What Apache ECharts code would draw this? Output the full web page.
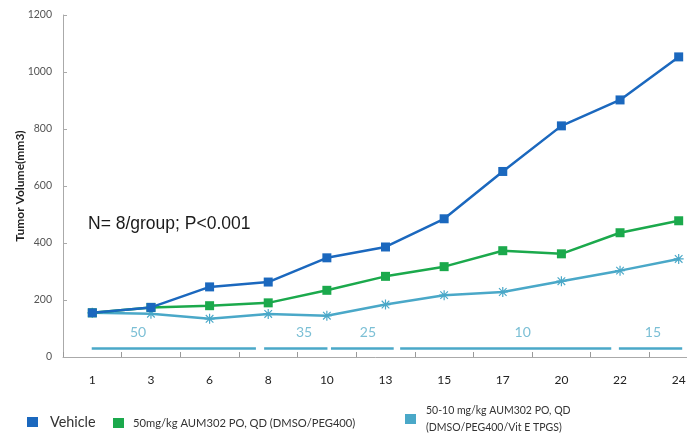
<!DOCTYPE html>
<html>
<head>
<meta charset="utf-8">
<script src="https://cdn.jsdelivr.net/npm/echarts@6/dist/echarts.min.js"></script>
<style>
  html, body { margin: 0; padding: 0; background: #fff; }
  #chart { width: 687px; height: 436px; }
</style>
</head>
<body>
<div id="chart"></div>
<script>
// Study days (x categories)
const days = ['1', '3', '6', '8', '10', '13', '15', '17', '20', '22', '24'];

// Mean tumor volume (mm3) per group
const vehicle = [155, 174, 246, 263, 348, 386, 485, 651, 811, 902, 1053];
const dose50 = [155, 174, 180, 190, 234, 283, 317, 373, 362, 436, 478];
const dose50to10 = [155, 152, 134, 151, 145, 184, 217, 228, 266, 303, 344];

// Y axis ticks
const yTicks = [0, 200, 400, 600, 800, 1000, 1200];

// Dosing schedule of the tapered group (mg/kg), in day-index units
const doseLevels = [50, 35, 25, 10, 15];
const doseStart = [0.49, 3.43, 4.57, 5.75, 9.48];
const doseEnd = [3.29, 4.51, 5.64, 9.35, 10.56];
const doseLabelAt = [1.28, 4.11, 5.20, 7.84, 10.06];

const seriesNames = [
  'Vehicle',
  '50mg/kg AUM302 PO, QD (DMSO/PEG400)',
  '50-10 mg/kg AUM302 PO, QD\n(DMSO/PEG400/Vit E TPGS)'
];

const BLUE = '#1b68be';
const GREEN = '#1ba94c';
const TEAL = '#4aa8c8';
const FONT = 'Lato, "Open Sans", sans-serif';

// asterisk marker built from four thin bars
const asterisk = 'path://M0 4.4h10v1.2h-10z M4.4 0h1.2v10h-1.2z M0.8 1.6L1.6 0.8L9.2 8.4L8.4 9.2Z M8.4 0.8L9.2 1.6L1.6 9.2L0.8 8.4Z';

const chart = echarts.init(document.getElementById('chart'), null, { renderer: 'canvas' });

const dosingSegments = doseLevels.map((d, i) => ({
  coords: [[doseStart[i], 32], [doseEnd[i], 32]]
}));
const dosingLabels = doseLevels.map((d, i) => [doseLabelAt[i], 86, d]);

function legendFor(idx, left, top, fontSize, pad, lineHeight) {
  return {
    left: left, top: top,
    data: [seriesNames[idx]],
    icon: 'rect', itemWidth: 11, itemHeight: 10,
    selectedMode: false,
    textStyle: { fontFamily: FONT, fontSize: fontSize, color: '#333', padding: [0, 0, 0, pad], lineHeight: lineHeight }
  };
}

chart.setOption({
  animation: false,
  backgroundColor: '#fff',
  grid: { left: 63, top: 15, width: 645, bottom: 79, containLabel: false, outerBoundsMode: 'none' },
  xAxis: [
    {
      type: 'category',
      data: days,
      boundaryGap: true,
      axisLine: { show: true, lineStyle: { color: '#aaa', width: 1 } },
      axisTick: { show: true, inside: true, length: 5, lineStyle: { color: '#999' } },
      axisLabel: { color: '#222', fontFamily: FONT, fontSize: 12, margin: 17 },
      splitLine: { show: false }
    },
    { type: 'value', min: 0, max: 11, show: false }
  ],
  yAxis: {
    type: 'value',
    min: yTicks[0], max: yTicks[yTicks.length - 1], interval: 200,
    name: 'Tumor Volume(mm3)',
    nameLocation: 'middle',
    nameRotate: 90,
    nameGap: 37,
    nameMoveOverlap: false,
    nameTextStyle: { fontFamily: FONT, fontWeight: 'bold', fontSize: 12, color: '#222' },
    axisLine: { show: true, lineStyle: { color: '#aaa', width: 1 } },
    axisTick: { show: true, inside: true, length: 4, lineStyle: { color: '#aaa' } },
    axisLabel: { color: '#555', fontFamily: FONT, fontSize: 10.5, margin: 11, formatter: v => String(v) },
    splitLine: { show: false }
  },
  legend: [
    legendFor(0, 22, 408, 14.4, 7, 18),
    legendFor(1, 108, 409, 11.2, 4, 18),
    legendFor(2, 400, 397, 10.5, 5, 17)
  ],
  graphic: [{
    type: 'text',
    left: 88, top: 215,
    style: { text: 'N= 8/group; P<0.001', fontFamily: '"Liberation Sans", Arial, sans-serif', fontSize: 17.5, fill: '#1a1a1a' }
  }],
  series: [
    {
      name: seriesNames[0], type: 'line', data: vehicle,
      symbol: 'rect', symbolSize: 9, showAllSymbol: true,
      itemStyle: { color: BLUE }, lineStyle: { color: BLUE, width: 2.5 }, z: 4
    },
    {
      name: seriesNames[1], type: 'line', data: dose50,
      symbol: 'rect', symbolSize: 9, showAllSymbol: true,
      itemStyle: { color: GREEN }, lineStyle: { color: GREEN, width: 2.5 }, z: 3
    },
    {
      name: seriesNames[2], type: 'line', data: dose50to10,
      symbol: asterisk, symbolSize: 10, showAllSymbol: true,
      itemStyle: { color: TEAL }, lineStyle: { color: TEAL, width: 2.5 }, z: 2
    },
    {
      name: 'dosing', type: 'lines', coordinateSystem: 'cartesian2d',
      xAxisIndex: 1, yAxisIndex: 0,
      data: dosingSegments,
      lineStyle: { color: TEAL, width: 2.5, opacity: 1 },
      silent: true
    },
    {
      name: 'dose labels', type: 'scatter', xAxisIndex: 1, yAxisIndex: 0,
      data: dosingLabels, symbolSize: 0, silent: true,
      label: {
        show: true, position: 'inside',
        formatter: p => String(p.value[2]),
        color: '#5aafca', fontFamily: FONT, fontSize: 14
      }
    }
  ]
});
</script>
</body>
</html>
